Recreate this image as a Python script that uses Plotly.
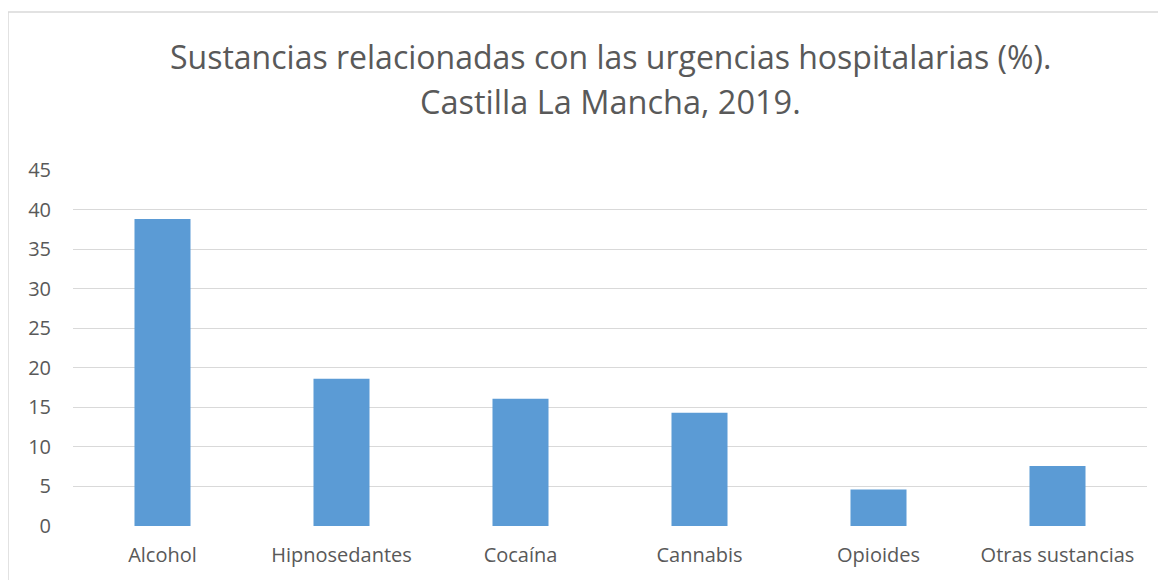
import plotly.graph_objects as go

categories = ["Alcohol", "Hipnosedantes", "Cocaína", "Cannabis", "Opioides", "Otras sustancias"]
values = [38.8, 18.6, 16.1, 14.3, 4.6, 7.6]
title_line1 = "Sustancias relacionadas con las urgencias hospitalarias (%)."
title_line2 = "Castilla La Mancha, 2019."

FONT = "Open Sans"
W, H = 1158, 572
L, R, T, B = 65, 19, 162, 54
ph = H - T - B

fig = go.Figure(go.Bar(x=categories, y=values, marker=dict(color="#5B9BD5", line=dict(width=0)), width=0.313))

fig.update_layout(
    width=W, height=H,
    margin=dict(l=L, r=R, t=T, b=B, pad=0),
    paper_bgcolor="white", plot_bgcolor="white",
    showlegend=False,
    font=dict(family=FONT, color="#595959", size=16),
)
fig.update_yaxes(range=[0, 45], dtick=5, tick0=0, showgrid=True, gridcolor="#d9d9d9", gridwidth=1.3,
                 zeroline=False, showline=False, ticks="", ticklabelstandoff=21,
                 tickfont=dict(size=20, color="#595959", family=FONT), fixedrange=True)
fig.update_xaxes(showgrid=False, showline=False, ticks="", ticklabelstandoff=15,
                 tickfont=dict(size=20, color="#595959", family=FONT), range=[-0.5, 5.5])

fig.add_annotation(text=title_line1, xref="paper", yref="paper", x=0.5, y=(H - B - 48) / ph,
                   xanchor="center", yanchor="middle", showarrow=False,
                   font=dict(size=32, color="#595959", family=FONT))
fig.add_annotation(text=title_line2, xref="paper", yref="paper", x=0.5, y=(H - B - 94) / ph,
                   xanchor="center", yanchor="middle", showarrow=False,
                   font=dict(size=32.5, color="#595959", family=FONT))
fig.add_shape(type="rect", xref="paper", yref="paper",
              x0=-L / (W - L - R), x1=1.2, y0=-0.5, y1=(H - B - 4) / ph,
              line=dict(color="#d9d9d9", width=1.5), fillcolor="rgba(0,0,0,0)", layer="below")

fig.write_html("out.html")
